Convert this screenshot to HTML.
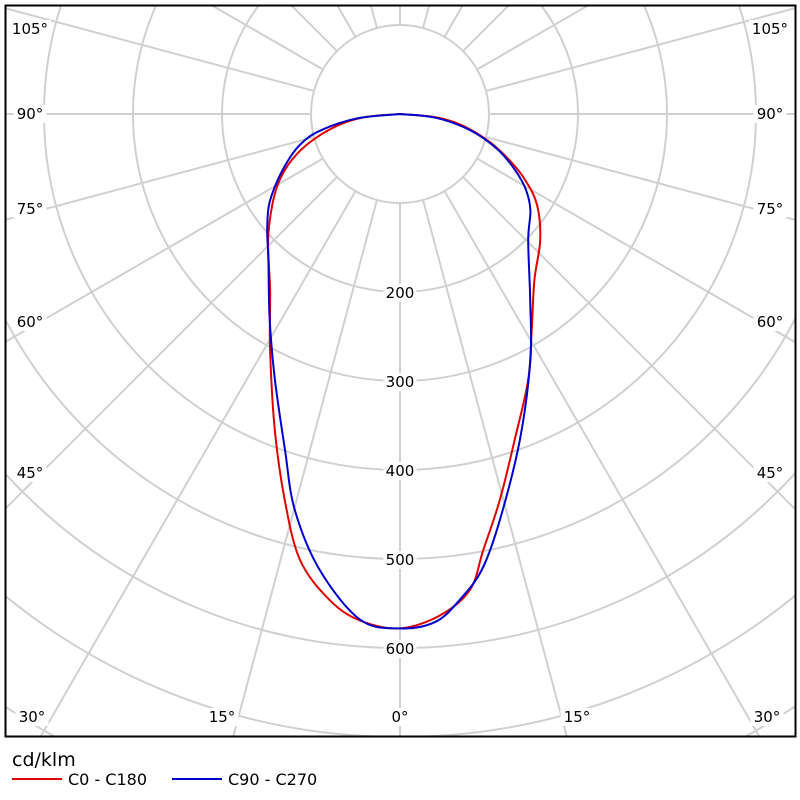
<!DOCTYPE html>
<html><head><meta charset="utf-8"><style>
html,body{margin:0;padding:0;background:#fff;overflow:hidden;width:800px;height:800px;}
svg{display:block;}
svg text{font-family:"DejaVu Sans","Liberation Sans",sans-serif;font-size:15px;fill:#000;}
</style></head><body>
<svg id="chart" width="800" height="800" viewBox="0 0 800 800" xmlns="http://www.w3.org/2000/svg">
<defs><clipPath id="clip"><rect x="6" y="6" width="789" height="730"/></clipPath></defs>
<rect x="0" y="0" width="800" height="800" fill="#fff"/>
<g id="grid" clip-path="url(#clip)"></g>
<g id="series" clip-path="url(#clip)"></g>
<g id="labels"></g>
<rect x="5.5" y="5.5" width="790" height="731" fill="none" stroke="#000" stroke-width="2"/>
<text x="12" y="766" style="font-size:19px">cd/klm</text>
<line x1="12" y1="779" x2="62" y2="779" stroke="#e00000" stroke-width="2"/>
<text x="68" y="785" style="font-size:16px">C0 - C180</text>
<line x1="172" y1="779" x2="222" y2="779" stroke="#0000cc" stroke-width="2"/>
<text x="228" y="785" style="font-size:16px">C90 - C270</text>
</svg>
<script>
const ringValues=[100,200,300,400,500,600,700,800,900];
const ringLabels=["200","300","400","500","600"];
const spokeAngles=[0,15,30,45,60,75,90,105,120,135,150,165,180];
const redRightAng=[0,4.6,8.4,10.8,14.5,19.4,25.7,31.4,39,48,56.4,62,67,73,80,85,90];
const redRightVal=[578,565,540,499,448,388,332,284,240,212,185,160,134,104,69,38,0];
const redLeftAng=[0,4.5,8.2,12.6,16.6,21.6,28.8,36.4,46.3,54.6,61,67,73,80,85,90];
const redLeftVal=[578,571,552,514,453,382,303,246,205,176,155,132,104,69,38,0];
const blueRightAng=[0,4,7,10.2,13.8,20.2,27.9,35,45.5,53.6,59,64,70,77,84,90];
const blueRightVal=[578,572,550,520,470,390,313,255,202,182,165,144,117,81,40,0];
const blueLeftAng=[0,4.5,10,14.9,18.9,25.2,32.3,42,48.9,55,60,66,72.8,78,84,90];
const blueLeftVal=[578,570,520,460,399,330,274,221,198,180,162,141,118,93,50,0];
const cx=400,cy=114,k=0.89;
const NS="http://www.w3.org/2000/svg";
function rScale(v){return v*k;}
function pt(angDeg,val,side){const a=angDeg*Math.PI/180;const r=rScale(val);return [cx+side*r*Math.sin(a),cy+r*Math.cos(a)];}
const grid=document.getElementById('grid');
ringValues.forEach(v=>{const c=document.createElementNS(NS,'circle');


c.setAttribute('cx',cx);c.setAttribute('cy',cy);c.setAttribute('r',rScale(v));c.setAttribute('fill','none');c.setAttribute('stroke','#d0d0d0');c.setAttribute('stroke-width','2');grid.appendChild(c);});
spokeAngles.forEach(a=>{[1,-1].forEach(s=>{if((a===0||a===180)&&s<0)return;const p1=pt(a,100,s),p2=pt(a,1200,s);const l=document.createElementNS(NS,'line');


l.setAttribute('x1',p1[0]);l.setAttribute('y1',p1[1]);l.setAttribute('x2',p2[0]);l.setAttribute('y2',p2[1]);l.setAttribute('stroke','#d0d0d0');l.setAttribute('stroke-width','2');grid.appendChild(l);});});
const labels=document.getElementById('labels');
function addLabel(x,y,t,anchor,name){const bw=t.length*9+6;const r=document.createElementNS(NS,'rect');


let bx=anchor==='middle'?x-bw/2:(anchor==='end'?x-bw:x);r.setAttribute('x',bx);r.setAttribute('y',y-14);r.setAttribute('width',bw);r.setAttribute('height',18);r.setAttribute('fill','#fff');labels.appendChild(r);
const e=document.createElementNS(NS,'text');


e.setAttribute('x',x);e.setAttribute('y',y);e.setAttribute('text-anchor',anchor);e.textContent=t;labels.appendChild(e);}
ringLabels.forEach(t=>{const v=+t;addLabel(cx,cy+rScale(v)+6,t,'middle','ring-label-'+t);});
[["105°",34],["90°",119],["75°",214],["60°",327],["45°",478]].forEach(([t,y])=>{addLabel(30,y,t,'middle','angle-label-left-'+t);addLabel(770,y,t,'middle','angle-label-right-'+t);});
[["30°",32],["15°",222],["0°",400],["15°",577],["30°",767]].forEach(([t,x])=>addLabel(x,722,t,'middle','angle-label-bottom-'+t));
function smoothPath(pts){let d='M'+pts[0][0].toFixed(1)+','+pts[0][1].toFixed(1);
for(let i=0;i<pts.length-1;i++){const p0=pts[Math.max(0,i-1)],p1=pts[i],p2=pts[i+1],p3=pts[Math.min(pts.length-1,i+2)];
const c1=[p1[0]+(p2[0]-p0[0])/6,p1[1]+(p2[1]-p0[1])/6],c2=[p2[0]-(p3[0]-p1[0])/6,p2[1]-(p3[1]-p1[1])/6];
d+=' C'+c1[0].toFixed(1)+','+c1[1].toFixed(1)+' '+c2[0].toFixed(1)+','+c2[1].toFixed(1)+' '+p2[0].toFixed(1)+','+p2[1].toFixed(1);}
return d;}
function curve(la,lv,ra,rv,color,name){let pts=[];for(let i=la.length-1;i>=0;i--)pts.push(pt(la[i],lv[i],-1));for(let i=1;i<ra.length;i++)pts.push(pt(ra[i],rv[i],1));
const p=document.createElementNS(NS,'path');


p.setAttribute('d',smoothPath(pts));p.setAttribute('fill','none');p.setAttribute('stroke',color);p.setAttribute('stroke-width','2');p.setAttribute('stroke-linejoin','round');document.getElementById('series').appendChild(p);}
curve(redLeftAng,redLeftVal,redRightAng,redRightVal,'#e00000','series-c0-c180');
curve(blueLeftAng,blueLeftVal,blueRightAng,blueRightVal,'#0000cc','series-c90-c270');
</script>
</body></html>
